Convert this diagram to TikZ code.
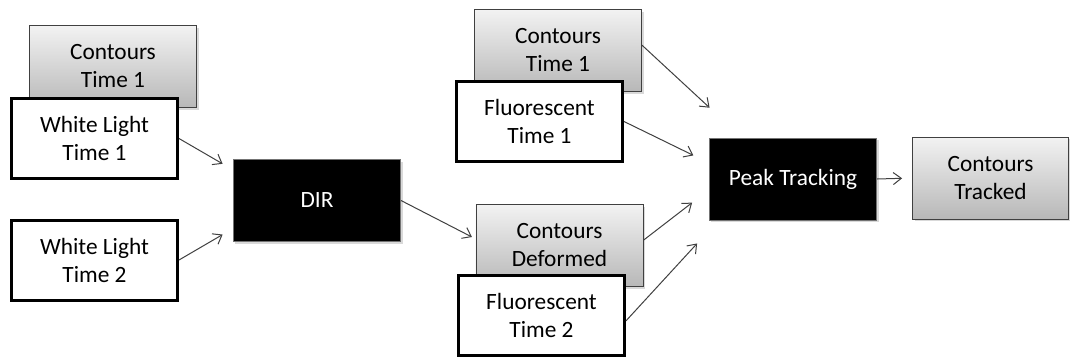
\documentclass[tikz,border=0pt]{standalone}
\usepackage{fontspec}
\setmainfont{Carlito}
\usetikzlibrary{arrows.meta,shadows}
\begin{document}
\begin{tikzpicture}[x=0.75pt,y=-0.75pt,
		box/.style={rectangle,minimum width=125.4pt,minimum height=61.5pt,inner sep=0pt,align=center,font=\fontsize{17.5}{21}\selectfont},
		graybox/.style={box,draw=black!75,line width=0.6pt,top color=black!5,bottom color=black!28,drop shadow={opacity=0.3,shadow xshift=1.5pt,shadow yshift=-1.5pt}},
		whitebox/.style={box,minimum width=124.5pt,minimum height=60pt,draw=black,line width=2.25pt,fill=white},
		blackbox/.style={box,draw=black!55,line width=0.6pt,fill=black,text=white,drop shadow={opacity=0.3,shadow xshift=1.5pt,shadow yshift=-1.5pt}},
		link/.style={draw=black!75,line width=0.75pt,-{Straight Barb[length=6pt,width=9pt]}}]
	\useasboundingbox (0,0) rectangle (1070,358);
	\node[graybox] (ctl) at (113,66.5) {Contours\\Time 1};
	\node[whitebox] (wl1) at (94.5,138.5) {White Light\\Time 1};
	\node[whitebox] (wl2) at (94.5,260) {White Light\\Time 2};
	\node[blackbox] (dir) at (317,200.5) {DIR};
	\node[graybox] (ctm) at (558,50.5) {Contours\\Time 1};
	\node[whitebox] (ft1) at (539.5,121.5) {Fluorescent\\Time 1};
	\node[graybox] (cd) at (559.5,245.5) {Contours\\Deformed};
	\node[whitebox] (ft2) at (541.5,315.5) {Fluorescent\\Time 2};
	\node[blackbox] (pt) at (793,179) {Peak Tracking};
	\node[graybox,minimum width=117pt] (ctr) at (990.5,178) {Contours\\Tracked};
	\draw[link,shorten >=9pt] (wl1.east) -- ([yshift=23pt]dir.west);
	\draw[link,shorten >=9pt] (wl2.east) -- ([yshift=-21pt]dir.west);
	\draw[link,shorten >=3pt] (dir.east) -- ([yshift=5pt]cd.west);
	\draw[link,shorten >=33pt] ([yshift=4pt]ctm.east) -- (pt.141);
	\draw[link,shorten >=13pt] (ft1.east) -- ([yshift=12pt]pt.west);
	\draw[link,shorten >=16pt] ([yshift=4pt]cd.east) -- ([yshift=-8pt]pt.west);
	\draw[link,shorten >=23.5pt] ([yshift=-4pt]ft2.east) -- (pt.209);
	\draw[link,shorten >=7.5pt] (pt.east) -- (ctr.west);
\end{tikzpicture}
\end{document}
